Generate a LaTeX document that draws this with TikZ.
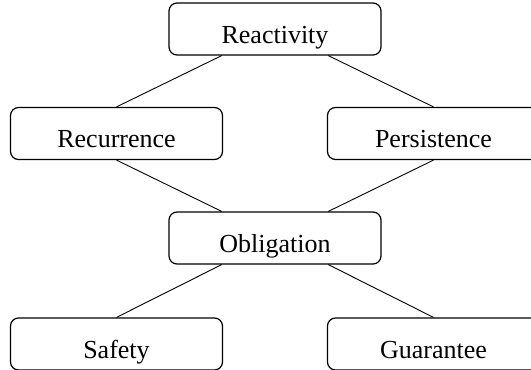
\documentclass[tikz,border=0pt]{standalone}
\usepackage{fontspec}
\setmainfont{Liberation Serif}
\usetikzlibrary{calc}
\begin{document}
\begin{tikzpicture}[x=0.5pt,y=-0.5pt,
  box/.style={draw, line width=0.6pt, rounded corners=4pt, minimum width=106pt, minimum height=26pt,
    inner sep=0pt, text height=14pt, text depth=0pt, font=\fontsize{13pt}{15pt}\selectfont},
  link/.style={line width=0.45pt}]
\useasboundingbox (0,0) rectangle (531,370);
\node[box] (rea) at (275,29) {Reactivity};
\node[box] (rec) at (116.5,133.5) {Recurrence};
\node[box] (per) at (433.5,133.5) {Persistence};
\node[box] (obl) at (275,238) {Obligation};
\node[box] (saf) at (116.5,344) {Safety};
\node[box] (gua) at (433.5,344) {Guarantee};
\draw[link] ($(rea.south west)!0.25!(rea.south east)$) -- (rec.north);
\draw[link] ($(rea.south west)!0.75!(rea.south east)$) -- (per.north);
\draw[link] (rec.south) -- ($(obl.north west)!0.25!(obl.north east)$);
\draw[link] (per.south) -- ($(obl.north west)!0.75!(obl.north east)$);
\draw[link] ($(obl.south west)!0.25!(obl.south east)$) -- (saf.north);
\draw[link] ($(obl.south west)!0.75!(obl.south east)$) -- (gua.north);
\end{tikzpicture}
\end{document}
